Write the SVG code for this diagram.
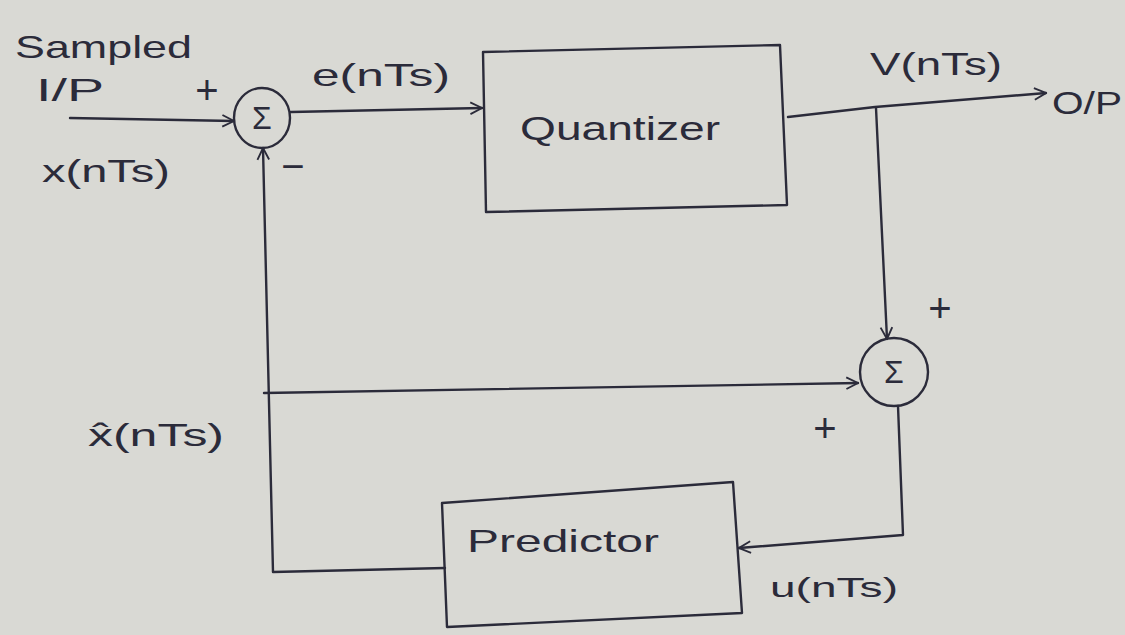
<svg xmlns="http://www.w3.org/2000/svg" width="1125" height="635" viewBox="0 0 1125 635">
  <defs>
    <marker id="arr" viewBox="0 0 12 12" refX="11" refY="6" markerWidth="14" markerHeight="14" markerUnits="userSpaceOnUse" orient="auto">
      <path d="M1,1 L11,6 L1,11" fill="none" stroke="#2b2b3a" stroke-width="1.6"/>
    </marker>
    <style>
      .ink{fill:none;stroke:#2b2b3a;stroke-width:2.4;stroke-linecap:round;stroke-linejoin:round}
      .lbl{font-family:"Liberation Sans","DejaVu Sans",sans-serif;fill:#2b2b3a}
      .big{font-size:32px}
      .mid{font-size:28px}
      .pm{font-size:40px;text-anchor:middle}
      .sig{font-size:32px;text-anchor:middle}
    </style>
  </defs>
  <rect width="1125" height="635" fill="#d9d9d4"/>

  <g id="connectors">
    <path class="ink" d="M70,118 L234,121" marker-end="url(#arr)"/>
    <path class="ink" d="M291,112 L482,108" marker-end="url(#arr)"/>
    <path class="ink" d="M788,117 L875,107 L1046,93" marker-end="url(#arr)"/>
    <path class="ink" d="M876,108 L887,339" marker-end="url(#arr)"/>
    <path class="ink" d="M264,393 L858,383" marker-end="url(#arr)"/>
    <path class="ink" d="M898,406 L903,535 L739,548" marker-end="url(#arr)"/>
    <path class="ink" d="M445,568 L273,572 L263,148" marker-end="url(#arr)"/>
  </g>

  <g id="summer1">
    <ellipse class="ink" cx="262" cy="118" rx="28" ry="30"/>
    <text class="lbl sig" x="262" y="129">Σ</text>
  </g>

  <g id="quantizer">
    <path class="ink" d="M483,52 L780,45 L787,205 L486,212 Z"/>
    <text class="lbl" x="520" y="140" font-size="34" textLength="200" lengthAdjust="spacingAndGlyphs">Quantizer</text>
  </g>

  <g id="summer2">
    <ellipse class="ink" cx="894" cy="372" rx="34" ry="34"/>
    <text class="lbl sig" x="894" y="383">Σ</text>
  </g>

  <g id="predictor">
    <path class="ink" d="M442,503 L733,482 L742,613 L447,627 Z"/>
    <text class="lbl" x="467" y="552" font-size="32" textLength="192" lengthAdjust="spacingAndGlyphs">Predictor</text>
  </g>

  <g id="labels">
    <text class="lbl big" x="15" y="58" textLength="177" lengthAdjust="spacingAndGlyphs">Sampled</text>
    <text class="lbl big" x="36" y="101" textLength="68" lengthAdjust="spacingAndGlyphs">I/P</text>
    <text class="lbl big" x="42" y="182" textLength="128" lengthAdjust="spacingAndGlyphs">x(nTs)</text>
    <text class="lbl pm" x="207" y="104">+</text>
    <text class="lbl pm" x="293" y="180">−</text>
    <text class="lbl big" x="312" y="86" textLength="138" lengthAdjust="spacingAndGlyphs">e(nTs)</text>
    <text class="lbl big" x="870" y="75" textLength="132" lengthAdjust="spacingAndGlyphs">V(nTs)</text>
    <text class="lbl big" x="1052" y="114" textLength="70" lengthAdjust="spacingAndGlyphs">O/P</text>
    <text class="lbl pm" x="940" y="322">+</text>
    <text class="lbl pm" x="825" y="442">+</text>
    <text class="lbl big" x="88" y="446" textLength="136" lengthAdjust="spacingAndGlyphs">x̂(nTs)</text>
    <text class="lbl mid" x="770" y="597" textLength="128" lengthAdjust="spacingAndGlyphs">u(nTs)</text>
  </g>
</svg>
